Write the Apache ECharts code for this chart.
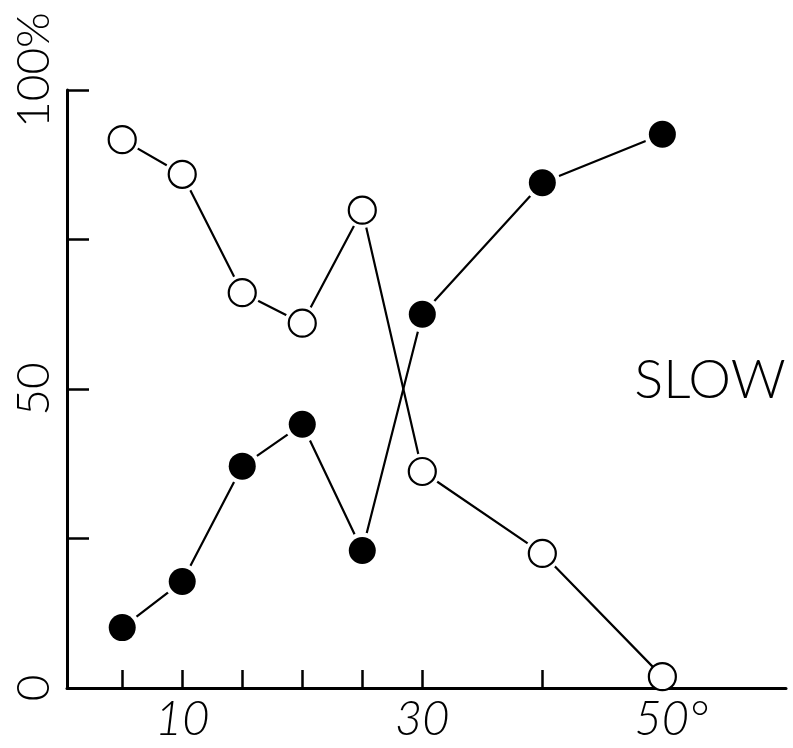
<!DOCTYPE html>
<html>
<head>
<meta charset="utf-8">
<script src="https://cdn.jsdelivr.net/npm/echarts@6/dist/echarts.min.js"></script>
<style>
  html, body { margin: 0; padding: 0; background: #fff; }
  #chart { width: 793px; height: 748px; }
</style>
</head>
<body>
<div id="chart"></div>
<script>
// ---- data ----
const xValues = [5, 10, 15, 20, 25, 30, 40, 50];
const openValues = [91.7, 85.9, 66.1, 61.0, 79.9, 36.2, 22.5, 1.9];
const filledValues = [10.1, 17.8, 37.1, 44.1, 23.0, 62.5, 84.5, 92.6];
const xTickValues = [5, 10, 15, 20, 25, 30, 40, 50];
const xLabelValues = [10, 30, 50];
const yTickValues = [25, 50, 75, 100];
const yLabelValues = [0, 50, 100];
const annotationText = 'SLOW';

const openData = xValues.map((x, i) => [x, openValues[i]]);
const filledData = xValues.map((x, i) => [x, filledValues[i]]);

const FONT = 'Lato, "DejaVu Sans", sans-serif';
const chart = echarts.init(document.getElementById('chart'), null, { renderer: 'canvas' });

const maskSize = (v) => (v[1] < 5 ? 27 : 36);

chart.setOption({
  animation: false,
  backgroundColor: '#fff',
  grid: { left: 67, right: 7, top: 90, bottom: 60, containLabel: false },
  xAxis: {
    type: 'value',
    min: 0.4,
    max: 60.3,
    splitLine: { show: false },
    axisLine: { show: true, lineStyle: { color: '#000', width: 3 } },
    axisTick: { show: true, inside: true, length: 18, customValues: xTickValues,
      lineStyle: { color: '#000', width: 2.5 } },
    axisLabel: {
      customValues: xLabelValues,
      margin: 8,
      color: '#000',
      fontSize: 47,
      fontStyle: 'italic',
      fontWeight: 300,
      fontFamily: FONT,
      formatter: (v) => (v === 50 ? '{d|50°}' : String(v)),
      rich: { d: { padding: [0, 0, 0, 18], fontSize: 47, fontStyle: 'italic', fontWeight: 300, fontFamily: FONT, color: '#000' } }
    }
  },
  yAxis: {
    type: 'value',
    min: 0,
    max: 100,
    splitLine: { show: false },
    axisLine: { show: true, lineStyle: { color: '#000', width: 3 } },
    axisTick: { show: true, inside: true, length: 22, customValues: yTickValues,
      lineStyle: { color: '#000', width: 2.5 } },
    axisLabel: {
      customValues: yLabelValues,
      rotate: 90,
      margin: 10,
      color: '#000',
      fontSize: 46,
      fontWeight: 300,
      fontFamily: FONT,
      formatter: (v) => (v === 100 ? '{p|100%}' : String(v)),
      rich: { p: { padding: [0, 0, 0, 40], fontSize: 46, fontWeight: 300, fontFamily: FONT, color: '#000' } }
    }
  },
  graphic: [{
    type: 'text', x: 710, y: 381, z: 10,
    style: { text: annotationText, font: '300 54px ' + FONT, textAlign: 'center', textVerticalAlign: 'middle', fill: '#000' }
  }],
  series: [
    { type: 'line', data: openData, z: 2, symbol: 'circle', symbolSize: maskSize,
      lineStyle: { color: '#000', width: 2.2 }, itemStyle: { color: '#fff', borderWidth: 0, opacity: 1 } },
    { type: 'line', data: filledData, z: 2, symbol: 'circle', symbolSize: maskSize,
      lineStyle: { color: '#000', width: 2.2 }, itemStyle: { color: '#fff', borderWidth: 0, opacity: 1 } },
    { type: 'scatter', data: openData, z: 5, symbol: 'circle', symbolSize: 27,
      itemStyle: { color: '#fff', borderColor: '#000', borderWidth: 2.2, opacity: 1 } },
    { type: 'scatter', data: filledData, z: 5, symbol: 'circle', symbolSize: 27,
      itemStyle: { color: '#000', opacity: 1 } }
  ]
});
</script>
</body>
</html>
